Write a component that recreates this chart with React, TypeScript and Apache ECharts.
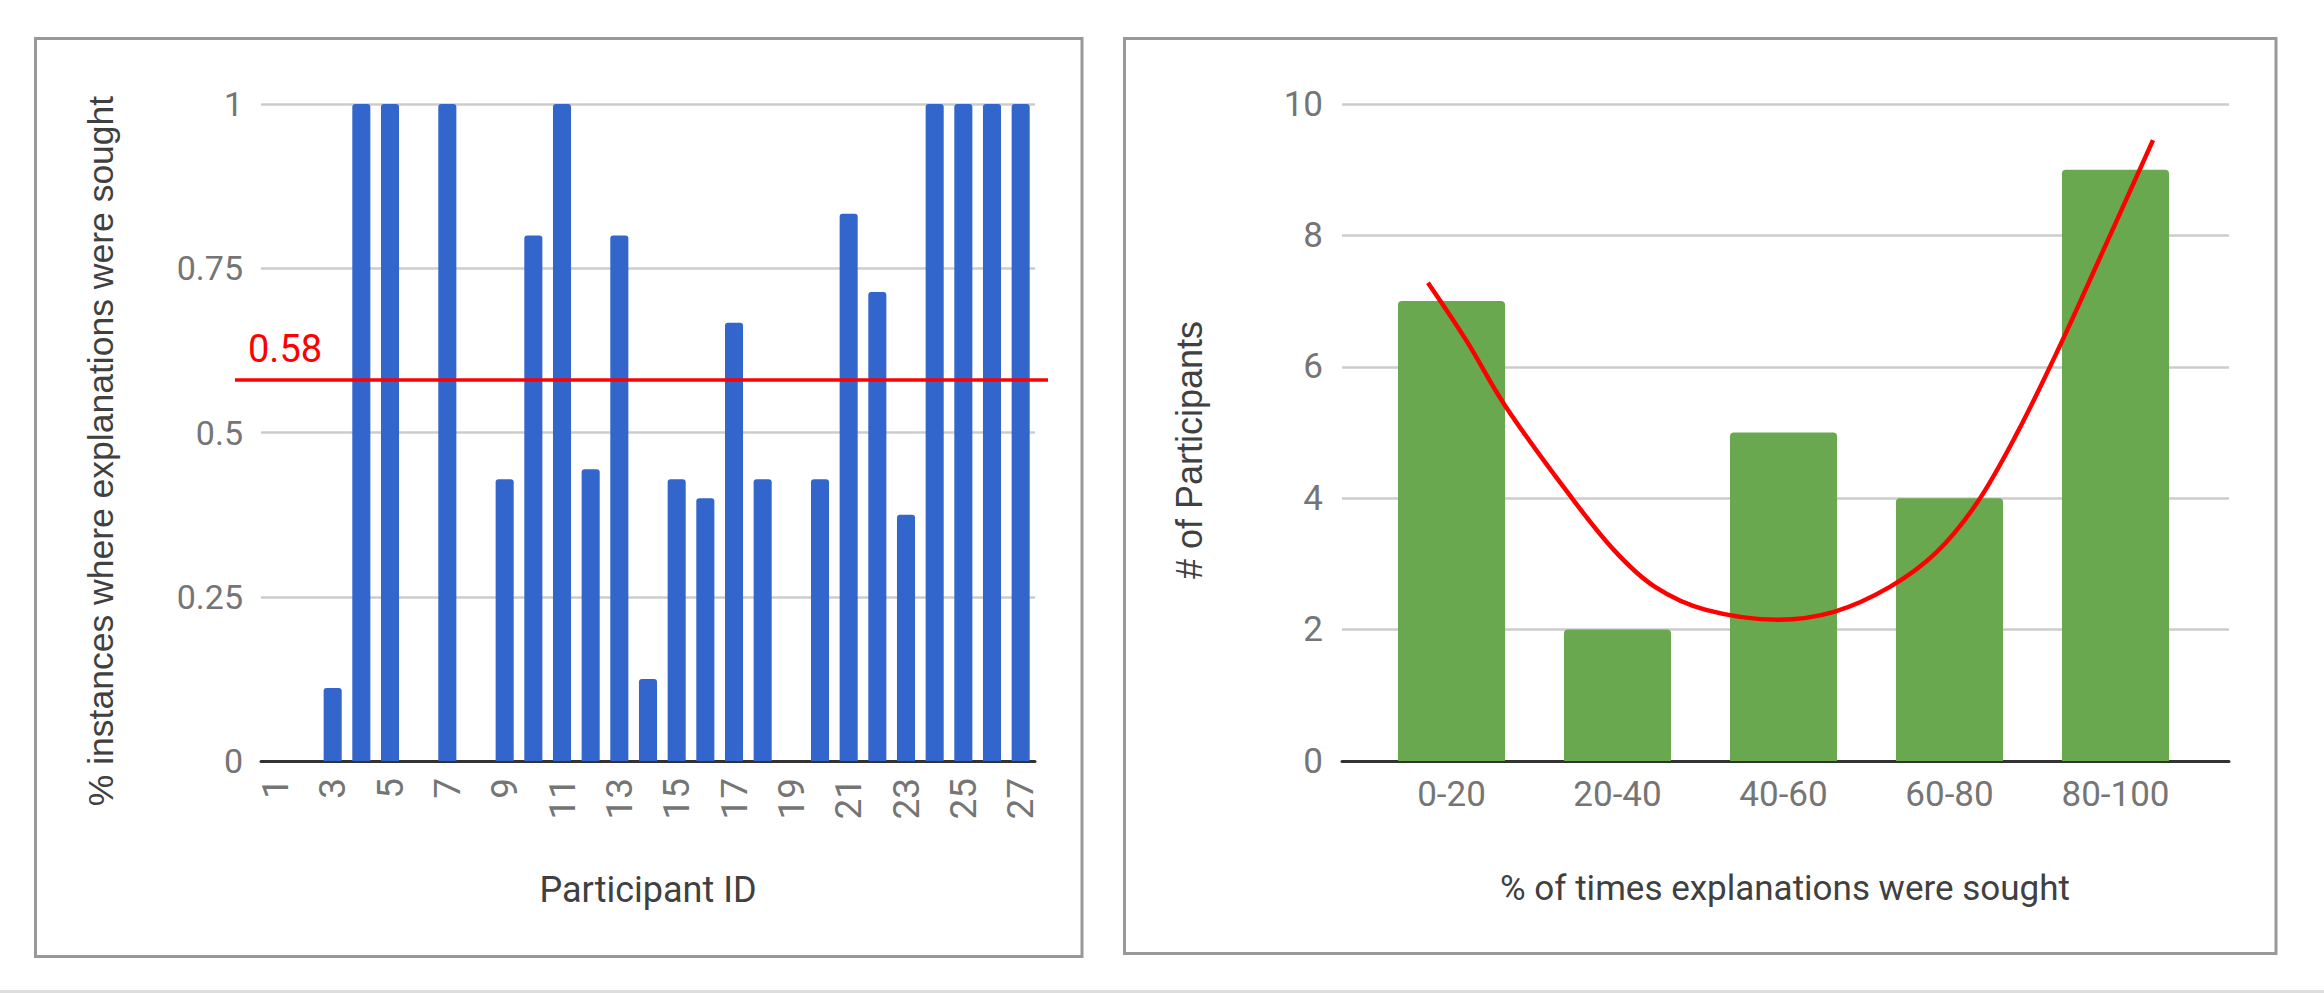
import React, { useEffect, useRef } from "react";
import * as echarts from "echarts";

// ---------- data ----------
const PARTICIPANT_IDS = [
  "1", "2", "3", "4", "5", "6", "7", "8", "9", "10", "11", "12", "13", "14",
  "15", "16", "17", "18", "19", "20", "21", "22", "23", "24", "25", "26", "27",
];
const SOUGHT_SHARE = [
  0, 0, 0.111, 1, 1, 0, 1, 0, 0.429, 0.8, 1, 0.444, 0.8, 0.125,
  0.429, 0.4, 0.667, 0.429, 0, 0.429, 0.833, 0.714, 0.375, 1, 1, 1, 1,
];
const MEAN_SHARE = 0.584;
const SHARE_MIN = 0;
const SHARE_MAX = 1;
const SHARE_STEP = 0.25;

const BINS = ["0-20", "20-40", "40-60", "60-80", "80-100"];
const BIN_COUNTS = [7, 2, 5, 4, 9];
const COUNT_MIN = 0;
const COUNT_MAX = 10;
const COUNT_STEP = 2;

// hand-drawn red trend curve (x in bin-index units)
const TREND_X = [-0.142, 0.087, 0.328, 0.702, 0.979, 1.226, 1.533, 1.967, 2.304, 2.641, 2.919, 3.166, 3.407, 3.654, 3.901, 4.226];
const TREND_Y = [7.28, 6.41, 5.39, 4.08, 3.21, 2.65, 2.3, 2.15, 2.27, 2.65, 3.17, 3.93, 4.99, 6.26, 7.63, 9.45];

const LEFT_X_TITLE = "Participant ID";
const LEFT_Y_TITLE = "% instances where explanations were sought";
const RIGHT_X_TITLE = "% of times explanations were sought";
const RIGHT_Y_TITLE = "# of Participants";

// ---------- styles ----------
const BLUE = "#3366cc";
const GREEN = "#6aa84f";
const RED = "#ff0000";
const GRID_COLOR = "#cccccc";
const AXIS_COLOR = "#333333";
const TICK_COLOR = "#757575";
const TITLE_COLOR = "#404040";
const BORDER_COLOR = "#999999";

const PLOT_TOP = 104;
const PLOT_H = 657;

function buildOption() {
  const hiddenAxis = {
    show: false,
  };
  return {
    animation: false,
    backgroundColor: "#ffffff",
    grid: [
      { left: 261, top: PLOT_TOP, width: 774, height: PLOT_H },
      { left: 235, top: PLOT_TOP, width: 813, height: PLOT_H },
      { left: 1342, top: PLOT_TOP, width: 887, height: PLOT_H },
      { left: 1368.5, top: PLOT_TOP, width: 830, height: PLOT_H },
    ],
    xAxis: [
      {
        gridIndex: 0,
        type: "category",
        data: PARTICIPANT_IDS,
        boundaryGap: true,
        axisLine: { show: true, lineStyle: { color: AXIS_COLOR, width: 3 } },
        axisTick: { show: false },
        axisLabel: {
          interval: 1,
          rotate: 90,
          margin: 17,
          color: TICK_COLOR,
          fontSize: 37,
          fontFamily: "Roboto",
        },
      },
      { gridIndex: 1, type: "value", min: 0, max: 1, ...hiddenAxis },
      {
        gridIndex: 2,
        type: "value",
        min: 0,
        max: 1,
        axisLine: { show: true, onZero: false, lineStyle: { color: AXIS_COLOR, width: 3 } },
        axisTick: { show: false },
        axisLabel: { show: false },
        splitLine: { show: false },
      },
      {
        gridIndex: 3,
        type: "category",
        data: BINS,
        boundaryGap: true,
        axisLine: { show: false },
        axisTick: { show: false },
        axisLabel: {
          margin: 16,
          color: TICK_COLOR,
          fontSize: 35,
          fontFamily: "Roboto",
        },
      },
      { gridIndex: 3, type: "value", min: -0.5, max: 4.5, ...hiddenAxis },
    ],
    yAxis: [
      {
        gridIndex: 0,
        type: "value",
        min: SHARE_MIN,
        max: SHARE_MAX,
        interval: SHARE_STEP,
        axisLine: { show: false },
        axisTick: { show: false },
        axisLabel: { margin: 18, color: TICK_COLOR, fontSize: 34, fontFamily: "Roboto" },
        splitLine: { lineStyle: { color: GRID_COLOR, width: 2.5 } },
      },
      { gridIndex: 1, type: "value", min: SHARE_MIN, max: SHARE_MAX, ...hiddenAxis },
      {
        gridIndex: 2,
        type: "value",
        min: COUNT_MIN,
        max: COUNT_MAX,
        interval: COUNT_STEP,
        axisLine: { show: false },
        axisTick: { show: false },
        axisLabel: { margin: 19, color: TICK_COLOR, fontSize: 35, fontFamily: "Roboto" },
        splitLine: { lineStyle: { color: GRID_COLOR, width: 2.5 } },
      },
      { gridIndex: 3, type: "value", min: COUNT_MIN, max: COUNT_MAX, ...hiddenAxis },
    ],
    series: [
      {
        type: "bar",
        xAxisIndex: 0,
        yAxisIndex: 0,
        data: SOUGHT_SHARE,
        barWidth: "63%",
        itemStyle: { color: BLUE, borderRadius: [3, 3, 0, 0] },
      },
      {
        type: "line",
        xAxisIndex: 1,
        yAxisIndex: 1,
        data: [],
        markLine: {
          silent: true,
          symbol: ["none", "none"],
          data: [{ yAxis: MEAN_SHARE }],
          lineStyle: { color: RED, width: 3.5, type: "solid" },
          label: {
            show: true,
            position: "insideStartTop",
            formatter: MEAN_SHARE.toFixed(2),
            color: RED,
            fontSize: 38,
            fontFamily: "Roboto",
            distance: [13, 12],
          },
        },
      },
      {
        type: "bar",
        xAxisIndex: 3,
        yAxisIndex: 3,
        data: BIN_COUNTS,
        barWidth: "64.5%",
        itemStyle: { color: GREEN, borderRadius: [4, 4, 0, 0] },
      },
      {
        type: "line",
        xAxisIndex: 4,
        yAxisIndex: 3,
        data: TREND_X.map((x, i) => [x, TREND_Y[i]]),
        smooth: 0.35,
        showSymbol: false,
        lineStyle: { color: RED, width: 4.5 },
        z: 5,
      },
    ],
    graphic: [
      {
        type: "rect",
        shape: { x: 35.5, y: 38.5, width: 1046.5, height: 918 },
        style: { fill: "none", stroke: BORDER_COLOR, lineWidth: 3 },
        silent: true,
      },
      {
        type: "rect",
        shape: { x: 1124.5, y: 38.5, width: 1151.5, height: 915 },
        style: { fill: "none", stroke: BORDER_COLOR, lineWidth: 3 },
        silent: true,
      },
      {
        type: "rect",
        shape: { x: 0, y: 990, width: 2324, height: 3 },
        style: { fill: "#dddddd" },
        silent: true,
      },
      {
        type: "text",
        x: 101,
        y: 451,
        rotation: Math.PI / 2,
        style: {
          text: LEFT_Y_TITLE,
          fontSize: 35.5,
          fontFamily: "Liberation Sans",
          fill: TITLE_COLOR,
          align: "center",
          verticalAlign: "middle",
        },
      },
      {
        type: "text",
        x: 648,
        y: 890,
        style: {
          text: LEFT_X_TITLE,
          fontSize: 36,
          fontFamily: "Roboto",
          fill: TITLE_COLOR,
          align: "center",
          verticalAlign: "middle",
        },
      },
      {
        type: "text",
        x: 1189,
        y: 450,
        rotation: Math.PI / 2,
        style: {
          text: RIGHT_Y_TITLE,
          fontSize: 36,
          fontFamily: "Liberation Sans",
          fill: TITLE_COLOR,
          align: "center",
          verticalAlign: "middle",
        },
      },
      {
        type: "text",
        x: 1785,
        y: 888,
        style: {
          text: RIGHT_X_TITLE,
          fontSize: 35,
          fontFamily: "Roboto",
          fill: TITLE_COLOR,
          align: "center",
          verticalAlign: "middle",
        },
      },
    ],
  };
}

export default function App() {
  const ref = useRef<HTMLDivElement | null>(null);
  useEffect(() => {
    if (!ref.current) return;
    const chart = echarts.init(ref.current, undefined, { renderer: "svg" });
    chart.setOption(buildOption() as any);
    return () => {
      chart.dispose();
    };
  }, []);
  return (
    <div
      ref={ref}
      style={{
        position: "fixed",
        left: 0,
        top: 0,
        width: 2324,
        height: 993,
        background: "#ffffff",
      }}
    />
  );
}
